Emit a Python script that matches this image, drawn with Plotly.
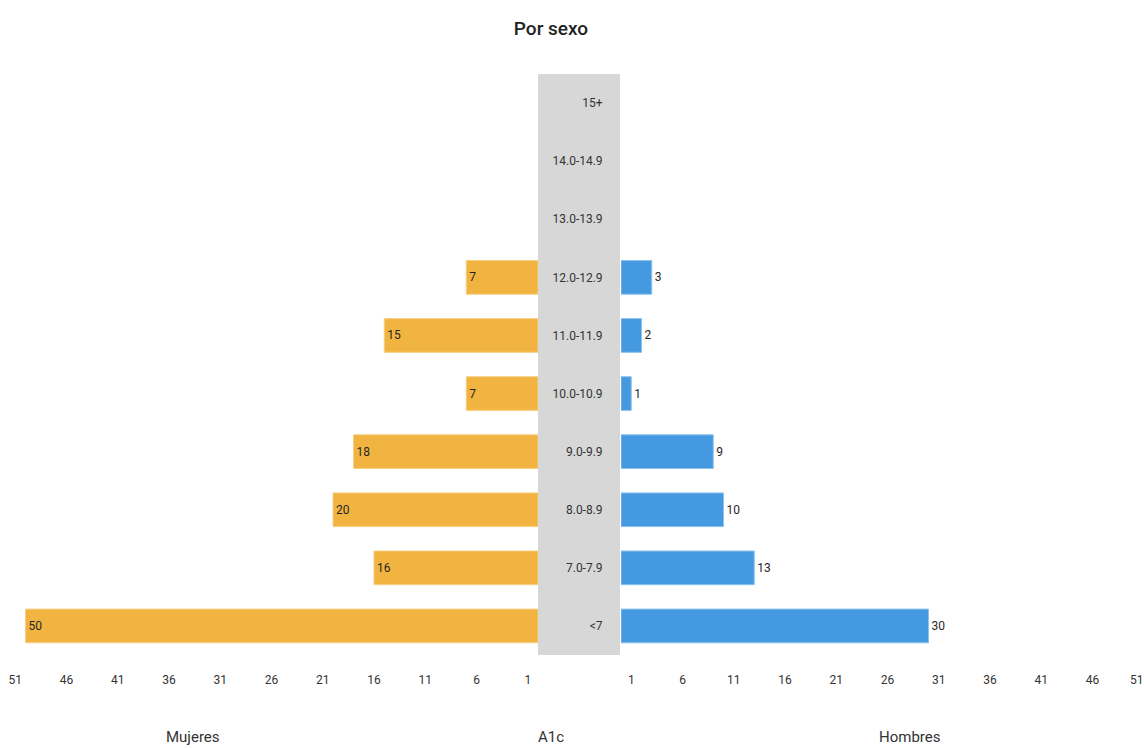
import plotly.graph_objects as go

# A1c ranges, bottom to top
categories = ["<7", "7.0-7.9", "8.0-8.9", "9.0-9.9", "10.0-10.9",
              "11.0-11.9", "12.0-12.9", "13.0-13.9", "14.0-14.9", "15+"]
mujeres = [50, 16, 20, 18, 7, 15, 7, None, None, None]
hombres = [30, 13, 10, 9, 1, 2, 3, None, None, None]
tick_vals = [1, 6, 11, 16, 21, 26, 31, 36, 41, 46, 51]
tick_text = ["1", "6", "11", "16", "21", "26", "31", "36", "41", "46", "51"]

FONT = "Roboto, Liberation Sans, sans-serif"
W, H = 1144, 748
ORANGE = "#F2B441"
BLUE = "#4599E0"
INK = "#262626"

# pixel layout of the two half-panels
left_end, right_start = 538, 621
px_per_unit = 10.25
right_range = [0, (W - right_start) / px_per_unit]

fig = go.Figure()
fig.add_trace(go.Bar(
    y=categories, x=mujeres, orientation="h", name="Mujeres",
    xaxis="x", yaxis="y",
    marker=dict(color=ORANGE, line=dict(color="#F7CF85", width=1)),
    text=[str(v) if v else "" for v in mujeres],
    textposition="inside", insidetextanchor="end",
    textfont=dict(family=FONT, size=12, color=INK),
    cliponaxis=False, hoverinfo="x+y",
))
fig.add_trace(go.Bar(
    y=categories, x=hombres, orientation="h", name="Hombres",
    xaxis="x2", yaxis="y",
    marker=dict(color=BLUE, line=dict(color="#8CC2EE", width=1)),
    text=[str(v) if v else "" for v in hombres],
    textposition="outside",
    textfont=dict(family=FONT, size=12, color=INK),
    cliponaxis=False, hoverinfo="x+y",
))
# empty trace so the overlay axis carrying the last right-hand tick is drawn
fig.add_trace(go.Scatter(x=[None], y=[None], xaxis="x3", yaxis="y",
                         mode="markers", showlegend=False, hoverinfo="skip"))

# grey band behind the category labels
fig.add_shape(type="rect", xref="paper", yref="y",
              x0=538 / W, x1=620 / W, y0=-0.5, y1=len(categories) - 0.5,
              fillcolor="#D7D7D7", line=dict(width=0), layer="below")

axis_font = dict(family=FONT, size=12, color="#333333")
common = dict(ticks="outside", ticklen=14, tickcolor="rgba(0,0,0,0)",
              showgrid=False, zeroline=False, showline=False,
              tickfont=axis_font)
fig.update_layout(
    width=W, height=H,
    margin=dict(l=0, r=0, t=74, b=H - 655, autoexpand=False),
    paper_bgcolor="white", plot_bgcolor="white",
    showlegend=False,
    bargap=0.42,
    title=dict(text="Por sexo", x=551 / W, xanchor="center", y=1 - 28 / H,
               yanchor="middle",
               font=dict(family=FONT, size=19, color="#222222", weight=500)),
    xaxis=dict(domain=[0, left_end / W],
               range=[left_end / px_per_unit, 0],
               tickvals=tick_vals, ticktext=tick_text,
               anchor="y", **common),
    xaxis2=dict(domain=[right_start / W, 1], range=right_range,
                tickvals=tick_vals[:-1], ticktext=tick_text[:-1],
                anchor="y", **common),
    # last tick of the right scale, label nudged inside the page edge
    xaxis3=dict(domain=[right_start / W, 1], range=right_range,
                overlaying="x2", side="bottom", anchor="y",
                tickvals=tick_vals[-1:], ticktext=tick_text[-1:],
                ticklabelshift=-7, ticklabeloverflow="allow", **common),
    yaxis=dict(categoryorder="array", categoryarray=categories,
               range=[-0.5, len(categories) - 0.5],
               anchor="x2", side="left",
               ticks="outside", ticklen=15, tickcolor="rgba(0,0,0,0)",
               showgrid=False, zeroline=False, showline=False,
               tickfont=axis_font),
)

# panel titles under the axes
for label, xpix in [("Mujeres", 193), ("A1c", 551), ("Hombres", 909)]:
    fig.add_annotation(text=label, xref="paper", yref="paper",
                       x=xpix / W, y=-(737 - 655) / (655 - 74),
                       xanchor="center", yanchor="middle", showarrow=False,
                       font=dict(family=FONT, size=15, color="#333333"))

fig.write_html("out.html")
